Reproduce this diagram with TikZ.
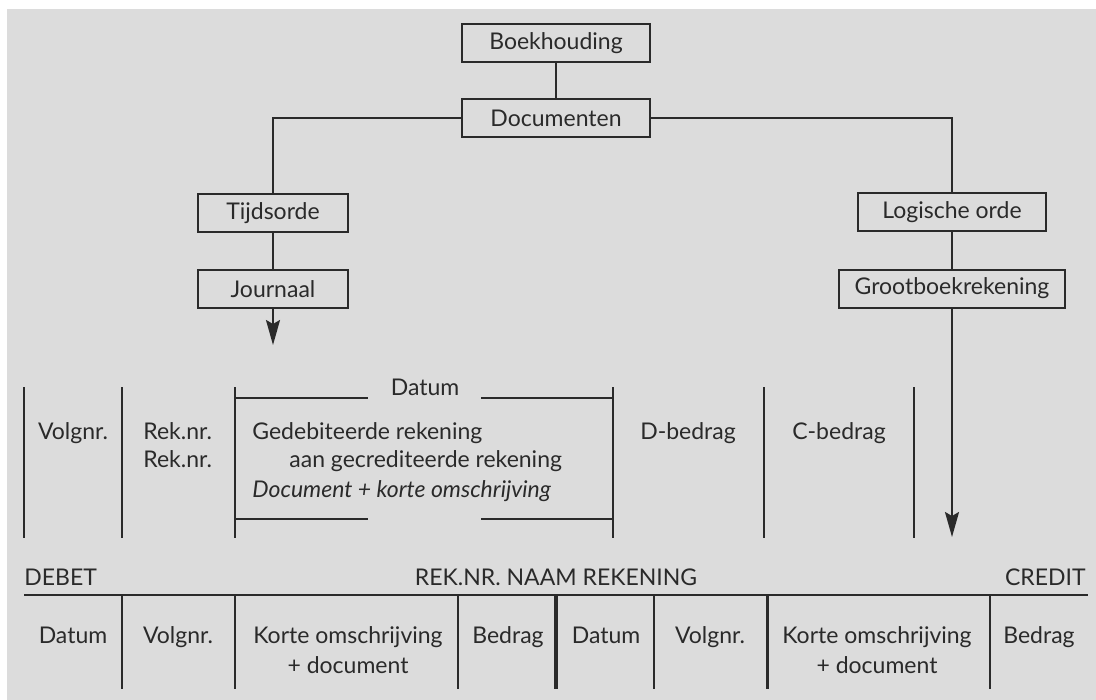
\documentclass[tikz,border=0pt]{standalone}
\usepackage{fontspec}
\setmainfont{Lato}
\usetikzlibrary{positioning,arrows.meta}
\definecolor{paper}{HTML}{DCDCDC}
\definecolor{ink}{HTML}{2A2A2A}
\tikzset{
  box/.style    = {draw=ink, line width=1pt, fill=paper, minimum height=19pt, inner sep=3pt, text=ink, font=\fontsize{11.5}{13}\selectfont},
  smallbox/.style = {box, minimum width=75pt},
  widebox/.style  = {box, minimum width=94pt},
  link/.style   = {draw=ink, line width=1pt},
  arrowto/.style = {-{Stealth[length=12.5pt, width=7pt, inset=2pt]}, draw=ink, fill=ink, line width=1pt},
  rule/.style   = {draw=ink, line width=1.1pt},
  lbl/.style    = {font=\fontsize{11.5}{13}\selectfont, text=ink, inner sep=0pt, anchor=base},
  lbll/.style   = {lbl, anchor=base west},
}

\begin{document}
\begin{tikzpicture}[x=0.5pt,y=-0.5pt]
  \useasboundingbox (0,0) rectangle (1096,700);
  \fill[paper] (7,9) rectangle (1096,700);

  % tree
  \node[widebox] (boek) at (556,43) {Boekhouding};
  \node[widebox] (doc) at (556,118.5) {Documenten};
  \node[smallbox] (tijd) at (273,213) {Tijdsorde};
  \node[smallbox] (journ) at (273,289) {Journaal};
  \node[widebox] (logi) at (952,212) {Logische orde};
  \node[box, minimum width=113pt] (groot) at (952,288.5) {Grootboekrekening};
  \coordinate (jend) at (273,345);
  \coordinate (gend) at (952,537);

  \draw[link] (boek) -- (doc);
  \draw[link] (doc.west) -| (tijd.north);
  \draw[link] (doc.east) -| (logi.north);
  \draw[link] (tijd) -- (journ);
  \draw[link] (logi) -- (groot);
  \draw[arrowto] (journ.south) -- (jend);
  \draw[arrowto] (groot.south) -- (gend);

  % journaal
  \foreach \x in {24,122,235,613,764,914}
    \draw[rule] (\x,387) -- (\x,538);
  \draw[rule] (235,398) -- (368,398) (481,398) -- (613,398);
  \draw[rule] (235,519) -- (368,519) (481,519) -- (613,519);
  \node[lbl] (jdat) at (425,395) {Datum};
  \node[lbl] (jvol) at (73,439) {Volgnr.};
  \node[lbll] (jrek1) at (143,439) {Rek.nr.};
  \node[lbll] (jrek2) at (143,467) {Rek.nr.};
  \node[lbll] (jgeb) at (252,439) {Gedebiteerde rekening};
  \node[lbll] (jaan) at (289,467) {aan gecrediteerde rekening};
  \node[lbll] (jdoc) at (252,497) {\itshape Document + korte omschrijving};
  \node[lbl] (jdb) at (688,439) {D-bedrag};
  \node[lbl] (jcb) at (839,439) {C-bedrag};

  % grootboekrekening
  \node[lbll] (deb) at (24,585) {DEBET};
  \node[lbl] (naam) at (556,585) {REK.NR. NAAM REKENING};
  \node[lbl, anchor=base east] (cred) at (1086,585) {CREDIT};
  \draw[rule] (24,595) -- (1088,595);
  \foreach \x in {122,235,458,654,767.5,990}
    \draw[rule] (\x,595) -- (\x,689);
  \draw[rule, line width=2pt] (556,595) -- (556,689);

  \node[lbl] (gdat1) at (73,643) {Datum};
  \node[lbl] (gvol1) at (178,643) {Volgnr.};
  \node[lbl] (gkor1) at (348,643) {Korte omschrijving};
  \node[lbl] (gpls1) at (348,673) {+ document};
  \node[lbl] (gbed1) at (508,643) {Bedrag};
  \node[lbl] (gdat2) at (606,643) {Datum};
  \node[lbl] (gvol2) at (710,643) {Volgnr.};
  \node[lbl] (gkor2) at (877,643) {Korte omschrijving};
  \node[lbl] (gpls2) at (877,673) {+ document};
  \node[lbl] (gbed2) at (1039,643) {Bedrag};
\end{tikzpicture}
\end{document}
